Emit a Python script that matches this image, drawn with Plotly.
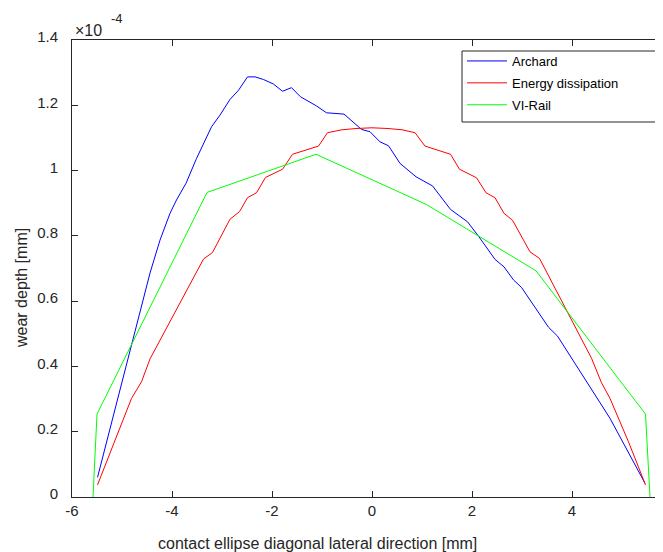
import plotly.graph_objects as go

# ---- data (wear depth in units of 1e-4 mm) ----
archard_x = [-5.49, -4.44, -4.24, -4.04, -3.91, -3.72, -3.51, -3.21, -3.04, -2.84,
             -2.67, -2.49, -2.34, -2.17, -1.97, -1.79, -1.61, -1.43, -1.11, -0.91,
             -0.56, -0.21, -0.04, 0.16, 0.33, 0.56, 0.88, 1.21, 1.57, 1.91,
             2.13, 2.46, 2.64, 2.83, 2.99, 3.53, 3.71, 4.76, 5.46]
archard_y = [0.060, 0.686, 0.787, 0.869, 0.910, 0.961, 1.037, 1.134, 1.170, 1.218,
             1.246, 1.287, 1.287, 1.279, 1.265, 1.243, 1.254, 1.226, 1.198, 1.177,
             1.173, 1.126, 1.119, 1.088, 1.076, 1.022, 0.981, 0.953, 0.881, 0.843,
             0.799, 0.728, 0.705, 0.665, 0.642, 0.520, 0.493, 0.241, 0.042]

energy_x = [-5.49, -4.81, -4.61, -4.44, -3.37, -3.19, -2.84, -2.65, -2.49, -2.31,
            -2.13, -1.79, -1.59, -1.07, -0.89, -0.60, -0.30, 0.00, 0.30, 0.60,
            0.86, 1.06, 1.57, 1.75, 2.09, 2.28, 2.46, 2.64, 2.81, 3.16,
            3.35, 4.39, 4.59, 4.76, 5.13, 5.47]
energy_y = [0.037, 0.302, 0.353, 0.423, 0.729, 0.749, 0.851, 0.874, 0.917, 0.932,
            0.979, 1.004, 1.050, 1.075, 1.116, 1.125, 1.129, 1.131, 1.129, 1.125,
            1.116, 1.075, 1.050, 1.004, 0.978, 0.932, 0.917, 0.869, 0.848, 0.751,
            0.731, 0.425, 0.350, 0.302, 0.169, 0.037]

virail_x = [-5.58, -5.50, -3.30, -1.12, 1.09, 3.28, 5.47, 5.56]
virail_y = [0.000, 0.254, 0.933, 1.050, 0.896, 0.693, 0.254, 0.000]

x_ticks = [-6, -4, -2, 0, 2, 4, 6]
x_ticklabels = ["-6", "-4", "-2", "0", "2", "4", "6"]
y_ticks = [0, 0.2, 0.4, 0.6, 0.8, 1.0, 1.2, 1.4]
y_ticklabels = ["0", "0.2", "0.4", "0.6", "0.8", "1", "1.2", "1.4"]

FONT = "Liberation Sans, Arial, Helvetica, sans-serif"
INK = "#262626"

fig = go.Figure()
fig.add_trace(go.Scatter(x=archard_x, y=archard_y, mode="lines", name="Archard",
                         line=dict(color="#0000FF", width=1), legendgroup="a"))
fig.add_trace(go.Scatter(x=energy_x, y=energy_y, mode="lines", name="Energy dissipation",
                         line=dict(color="#FF0000", width=1), legendgroup="b"))
fig.add_trace(go.Scatter(x=virail_x, y=virail_y, mode="lines", name="VI-Rail",
                         line=dict(color="#00FF00", width=1), legendgroup="c"))

# page body has an 8px margin; positions below are window pixels minus that offset
OFF = 8
W, H = 663 - OFF, 552 - OFF
L = 72 - OFF
T = 40 - OFF
B = H - (497 - OFF)
pw = W - L
ph = H - T - B


def px_x(x):
    return (x - OFF - L) / pw


def px_y(y):
    return (H - B - (y - OFF)) / ph


fig.update_layout(
    width=W, height=H,
    margin=dict(l=L, r=0, t=T, b=B, pad=0),
    paper_bgcolor="white", plot_bgcolor="white",
    font=dict(family=FONT, size=15, color=INK),
    showlegend=True,
    legend=dict(x=px_x(462), y=px_y(46), xanchor="left", yanchor="top",
                bgcolor="rgba(0,0,0,0)", borderwidth=0,
                font=dict(family=FONT, size=13, color="black"),
                tracegroupgap=2, itemwidth=40),
    xaxis=dict(range=[-6, -6 + pw / 50.0], tickmode="array", tickvals=x_ticks, ticktext=x_ticklabels,
               ticks="inside", ticklen=6, tickcolor=INK, showline=True, linecolor=INK, linewidth=1,
               mirror="ticks", showgrid=False, zeroline=False, ticklabelstandoff=0,
               tickfont=dict(size=15, color=INK)),
    yaxis=dict(range=[0, 1.4], tickmode="array", tickvals=y_ticks, ticktext=y_ticklabels,
               ticks="inside", ticklen=6, tickcolor=INK, showline=True, linecolor=INK, linewidth=1,
               mirror=False, showgrid=False, zeroline=False, ticklabelstandoff=10,
               ticklabelshift=-3, tickfont=dict(size=15, color=INK)),
)

# legend box
fig.add_shape(type="rect", xref="paper", yref="paper",
              x0=px_x(462), x1=px_x(659), y0=px_y(122), y1=px_y(51),
              line=dict(color=INK, width=1), fillcolor="rgba(0,0,0,0)")

# axis titles and exponent label
fig.add_annotation(text="contact ellipse diagonal lateral direction [mm]", xref="paper", yref="paper",
                   x=px_x(317), y=px_y(543), xanchor="center", yanchor="middle",
                   showarrow=False, font=dict(family=FONT, size=16, color=INK))
fig.add_annotation(text="wear depth [mm]", xref="paper", yref="paper", textangle=-90,
                   x=px_x(21), y=px_y(288), xanchor="center", yanchor="middle",
                   showarrow=False, font=dict(family=FONT, size=16, color=INK))
fig.add_annotation(text="×10", xref="paper", yref="paper",
                   x=px_x(73), y=px_y(30), xanchor="left", yanchor="middle",
                   showarrow=False, font=dict(family=FONT, size=16, color=INK))
fig.add_annotation(text="-4", xref="paper", yref="paper",
                   x=px_x(109), y=px_y(18), xanchor="left", yanchor="middle",
                   showarrow=False, font=dict(family=FONT, size=13, color=INK))

fig.write_html("out.html", config={"displayModeBar": False})
